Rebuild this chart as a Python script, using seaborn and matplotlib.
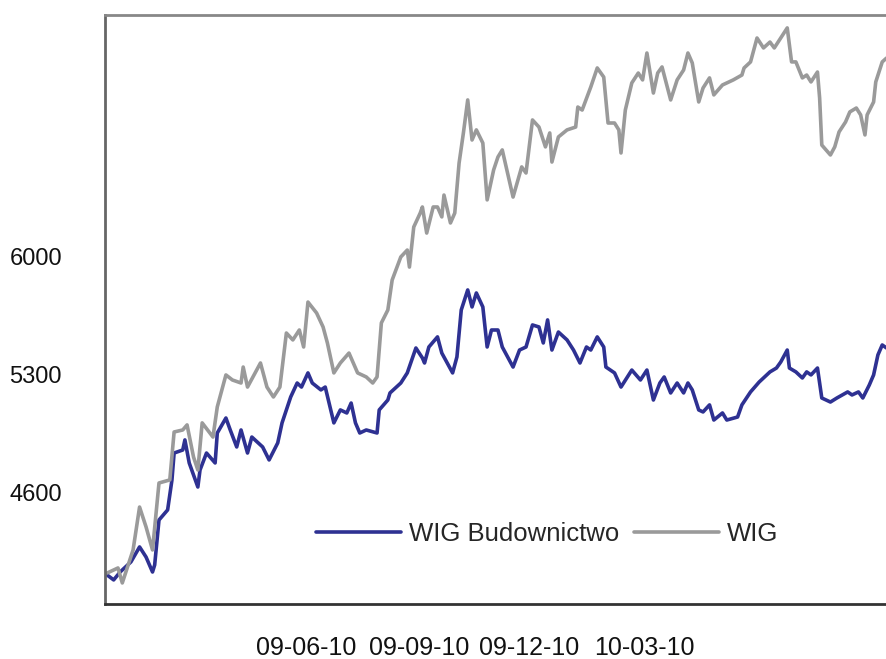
"""
WIG vs WIG Budownictwo, March 2009 - March 2010.
"""

import matplotlib.pyplot as plt
import matplotlib.transforms as mtrans
import pandas as pd
import seaborn as sns

START = pd.Timestamp("2009-03-10")

# days after START and index level
bud_day = [1, 4, 7, 12, 16, 19, 22, 23, 25, 29, 31, 32, 36, 37, 39, 43, 44, 47,
           51, 52, 56, 58, 61, 63, 66, 68, 73, 76, 80, 82, 86, 89, 91, 94, 96,
           100, 102, 106, 109, 112, 114, 116, 118, 121, 126, 127, 131, 132, 137,
           140, 144, 147, 148, 150, 154, 156, 161, 163, 165, 168, 170, 172, 175,
           177, 179, 182, 184, 189, 192, 195, 198, 201, 203, 205, 207, 210, 214,
           217, 220, 223, 225, 228, 231, 232, 236, 239, 242, 244, 248, 251, 254,
           257, 259, 262, 265, 268, 270, 272, 275, 277, 280, 282, 286, 288, 293,
           295, 299, 303, 308, 311, 313, 316, 317, 320, 323, 325, 327, 330, 332,
           336, 339, 344, 346, 349, 351, 354, 356, 358, 360, 362]
bud_val = [4072, 4043, 4090, 4150, 4239, 4179, 4090, 4132, 4399, 4459, 4637,
           4797, 4815, 4875, 4738, 4595, 4696, 4797, 4738, 4916, 5005, 4934,
           4833, 4934, 4797, 4892, 4833, 4756, 4857, 4976, 5130, 5213, 5189,
           5273, 5213, 5172, 5189, 4976, 5053, 5035, 5094, 4976, 4916, 4934,
           4916, 5053, 5112, 5154, 5213, 5273, 5421, 5362, 5332, 5427, 5487,
           5391, 5273, 5368, 5647, 5766, 5665, 5748, 5665, 5427, 5528, 5528,
           5427, 5308, 5409, 5427, 5558, 5546, 5451, 5588, 5409, 5516, 5469,
           5409, 5332, 5427, 5409, 5487, 5427, 5308, 5273, 5189, 5249, 5290,
           5231, 5290, 5112, 5213, 5249, 5154, 5213, 5154, 5213, 5172, 5053,
           5041, 5083, 4993, 5035, 4993, 5011, 5083, 5160, 5219, 5279, 5302,
           5338, 5409, 5302, 5279, 5243, 5279, 5261, 5302, 5124, 5100, 5124,
           5160, 5142, 5160, 5124, 5201, 5261, 5380, 5439, 5421]

wig_day = [1, 6, 8, 13, 16, 19, 22, 25, 30, 32, 36, 38, 41, 43, 45, 50, 52, 56,
           59, 63, 64, 66, 72, 75, 78, 81, 84, 87, 90, 92, 94, 98, 101, 103, 106,
           109, 113, 117, 121, 124, 126, 128, 131, 133, 137, 140, 141, 143, 146,
           147, 149, 152, 154, 156, 157, 160, 162, 164, 166, 168, 170, 172, 175,
           177, 180, 182, 184, 189, 193, 195, 198, 201, 204, 206, 207, 210, 214,
           218, 219, 221, 225, 228, 231, 233, 236, 238, 239, 241, 244, 247, 249,
           251, 254, 256, 258, 262, 265, 268, 270, 272, 275, 277, 280, 282, 286,
           291, 295, 296, 299, 302, 305, 308, 310, 313, 316, 318, 320, 323, 325,
           327, 330, 331, 332, 336, 338, 340, 343, 345, 348, 350, 352, 353, 356,
           357, 360, 362]
wig_val = [4084, 4114, 4025, 4221, 4476, 4358, 4221, 4619, 4637, 4922, 4934,
           4964, 4773, 4696, 4976, 4892, 5071, 5261, 5231, 5213, 5308, 5189,
           5332, 5189, 5130, 5189, 5510, 5469, 5528, 5427, 5694, 5629, 5546,
           5451, 5273, 5332, 5391, 5273, 5249, 5213, 5249, 5570, 5647, 5825,
           5962, 6003, 5902, 6140, 6223, 6259, 6104, 6259, 6259, 6200, 6330,
           6164, 6223, 6520, 6699, 6895, 6657, 6717, 6639, 6301, 6479, 6556,
           6598, 6318, 6497, 6461, 6776, 6734, 6616, 6699, 6526, 6675, 6717,
           6734, 6853, 6835, 6972, 7085, 7031, 6758, 6758, 6717, 6580, 6835,
           6996, 7055, 7014, 7174, 6936, 7055, 7091, 6895, 7014, 7073, 7174,
           7115, 6883, 6966, 7026, 6925, 6984, 7014, 7043, 7085, 7121, 7263,
           7204, 7239, 7204, 7263, 7323, 7121, 7121, 7026, 7043, 7002, 7061,
           6907, 6627, 6568, 6616, 6705, 6764, 6824, 6847, 6806, 6687, 6806,
           6883, 7002, 7121, 7144]

SERIES = ["WIG Budownictwo", "WIG"]
COLOURS = {"WIG Budownictwo": "#2E3192", "WIG": "#9A9A9A"}

y_ticks = [3900, 4600, 5300, 6000, 6700, 7400]
y_labels = ["", "4600", "5300", "6000", "", ""]
x_labels = ["09-06-10", "09-09-10", "09-12-10", "10-03-10"]
x_label_pos = [0.345, 0.473, 0.596, 0.726]  # where the labels sit, figure fraction

sns.set_theme(style="white")
plt.rcParams["font.family"] = ["Liberation Sans", "DejaVu Sans"]

df = pd.concat([
    pd.DataFrame({"date": START + pd.to_timedelta(bud_day, unit="D"),
                  "value": bud_val, "series": SERIES[0]}),
    pd.DataFrame({"date": START + pd.to_timedelta(wig_day, unit="D"),
                  "value": wig_val, "series": SERIES[1]}),
])

fig = plt.figure(figsize=(8.87, 6.59), dpi=100)
ax = fig.add_axes([0.1184, 0.0835, 0.8884, 0.8938])

sns.lineplot(data=df, x="date", y="value", hue="series", hue_order=SERIES,
             palette=COLOURS, estimator=None, linewidth=2.6, ax=ax)

ax.set_xlim(START, pd.Timestamp("2010-03-10"))
ax.set_ylim(3900, 7400)
ax.set_xticks(pd.to_datetime(["2009-03-10", "2009-06-10", "2009-09-10",
                              "2009-12-10", "2010-03-10"]))
ax.set_xticklabels([""] * 5)
ax.set_yticks(y_ticks)
ax.set_yticklabels(y_labels, fontsize=17, color="#111")
ax.set(xlabel="", ylabel="")
ax.tick_params(axis="both", length=4, width=1, color="#999", direction="inout")
ax.tick_params(axis="y", pad=29)

# labels in the original sit a few pixels below their ticks
shift = mtrans.ScaledTranslation(0, -6 / 100, fig.dpi_scale_trans)
for lab in ax.get_yticklabels():
    lab.set_transform(lab.get_transform() + shift)

for name, sp in ax.spines.items():
    sp.set_linewidth(2)
ax.spines["left"].set_color("#666")
ax.spines["top"].set_color("#888")
ax.spines["bottom"].set_color("#333")
ax.spines["right"].set_visible(False)

for txt, xp in zip(x_labels, x_label_pos):
    fig.text(xp, 0.017, txt, ha="center", va="center", fontsize=18, color="#111")

sns.move_legend(ax, loc="center left", bbox_to_anchor=(0.268, 0.118),
                ncol=2, frameon=False, title=None, fontsize=18.5,
                handlelength=3.3, handletextpad=0.3, columnspacing=0.6,
                borderpad=0, borderaxespad=0)

fig.savefig("out.png", dpi=100, facecolor="white")
